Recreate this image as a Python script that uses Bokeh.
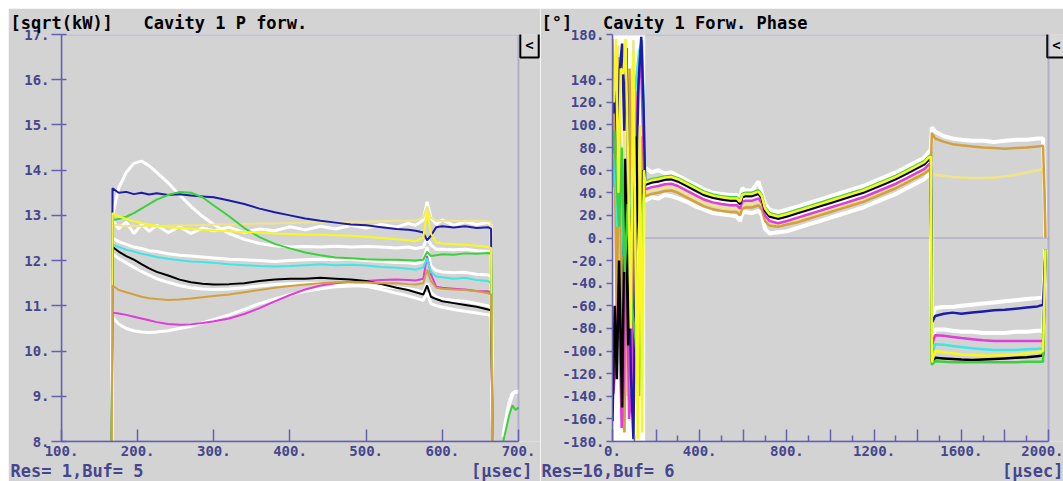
from bokeh.plotting import figure
from bokeh.layouts import row, column
from bokeh.models import FixedTicker, Label, Range1d, Title, BoxAnnotation, Spacer
from bokeh.embed import file_html
from bokeh.resources import INLINE

# ================= Left panel: Cavity 1 P forw. [sqrt(kW)] vs time [usec] =================
P_X = [166, 167, 175, 185, 195, 205, 215, 225, 240, 255, 270, 285, 300, 320, 340, 360, 380, 400,
       420, 440, 460, 480, 500, 520, 540, 555, 565, 575, 580, 585, 592, 600, 615, 630, 645, 660, 664, 666]
P_BLUE = [8.0, 13.6, 13.5, 13.52, 13.47, 13.5, 13.46, 13.49, 13.45, 13.47, 13.44, 13.42, 13.4, 13.33, 13.25,
          13.15, 13.07, 13.0, 12.93, 12.88, 12.84, 12.8, 12.78, 12.74, 12.7, 12.68, 12.66, 12.62, 12.45, 12.55,
          12.74, 12.76, 12.73, 12.76, 12.72, 12.74, 12.7, 8.0]
P_GREEN = [8.0, 12.9, 12.92, 12.97, 13.05, 13.15, 13.25, 13.35, 13.45, 13.52, 13.5, 13.4, 13.22, 12.98, 12.72,
           12.52, 12.37, 12.27, 12.18, 12.12, 12.07, 12.05, 12.03, 12.02, 12.02, 12.01, 12.0, 12.02, 12.2, 12.1,
           12.12, 12.14, 12.13, 12.16, 12.15, 12.17, 12.15, 8.0]
P_CYAN = [8.0, 12.35, 12.3, 12.24, 12.2, 12.15, 12.12, 12.08, 12.04, 12.01, 11.98, 11.97, 11.95, 11.92, 11.9,
          11.88, 11.87, 11.88, 11.9, 11.92, 11.9, 11.91, 11.89, 11.86, 11.84, 11.82, 11.8, 11.85, 12.05, 11.75,
          11.65, 11.63, 11.6, 11.62, 11.57, 11.55, 11.5, 8.0]
P_BLACK = [8.0, 12.3, 12.2, 12.1, 12.02, 11.92, 11.83, 11.75, 11.67, 11.58, 11.52, 11.49, 11.47, 11.48, 11.5,
           11.55, 11.58, 11.6, 11.6, 11.62, 11.6, 11.58, 11.55, 11.48, 11.4, 11.35, 11.3, 11.25, 11.45, 11.2,
           11.15, 11.1, 11.06, 11.02, 10.98, 10.92, 10.9, 8.0]
P_MAGENTA = [8.0, 10.85, 10.83, 10.8, 10.76, 10.72, 10.68, 10.64, 10.6, 10.58, 10.59, 10.62, 10.66, 10.72, 10.82,
             10.95, 11.1, 11.24, 11.36, 11.45, 11.5, 11.53, 11.55, 11.57, 11.58, 11.57, 11.56, 11.6, 12.1, 11.7,
             11.42, 11.4, 11.38, 11.36, 11.33, 11.32, 11.3, 8.0]
P_ORANGE = [8.0, 11.45, 11.35, 11.3, 11.25, 11.2, 11.17, 11.15, 11.13, 11.14, 11.16, 11.19, 11.22, 11.25, 11.3,
            11.35, 11.4, 11.44, 11.47, 11.5, 11.52, 11.52, 11.52, 11.5, 11.5, 11.48, 11.47, 11.5, 11.8, 11.55,
            11.4, 11.38, 11.36, 11.35, 11.32, 11.28, 11.25, 8.0]
P_YELLOW = [8.0, 13.05, 12.98, 12.92, 12.87, 12.83, 12.8, 12.77, 12.74, 12.72, 12.7, 12.68, 12.67, 12.65, 12.63,
            12.62, 12.6, 12.59, 12.58, 12.57, 12.56, 12.55, 12.53, 12.5, 12.47, 12.45, 12.43, 12.5, 13.1, 12.6,
            12.4, 12.38, 12.37, 12.35, 12.33, 12.3, 12.28, 8.0]
P_PALEYELLOW = [8.0, 12.8, 12.78, 12.76, 12.77, 12.76, 12.77, 12.76, 12.77, 12.78, 12.78, 12.79, 12.8, 12.8, 12.81,
                12.82, 12.82, 12.83, 12.84, 12.85, 12.85, 12.86, 12.86, 12.87, 12.88, 12.88, 12.89, 12.95, 13.2,
                12.95, 12.88, 12.88, 12.88, 12.87, 12.88, 12.87, 12.86, 8.0]
P_WHITE_PEAK = [8.0, 13.0, 13.6, 13.95, 14.15, 14.2, 14.1, 13.95, 13.72, 13.45, 13.2, 12.98, 12.8, 12.6, 12.47,
                12.38, 12.33, 12.3, 12.31, 12.3, 12.32, 12.3, 12.31, 12.3, 12.28, 12.3, 12.27, 12.3, 12.5, 12.35,
                12.25, 12.25, 12.24, 12.25, 12.22, 12.2, 12.2, 8.0]
P_WHITE_LOW = [8.0, 10.75, 10.6, 10.5, 10.45, 10.42, 10.41, 10.42, 10.45, 10.5, 10.55, 10.62, 10.7, 10.8, 10.92,
               11.05, 11.15, 11.25, 11.32, 11.38, 11.42, 11.44, 11.45, 11.43, 11.4, 11.38, 11.35, 11.3, 11.5, 11.3,
               11.2, 11.15, 11.12, 11.1, 11.05, 11.0, 10.95, 8.0]
P_WHITE_MID = [8.0, 12.9, 12.7, 12.85, 12.6, 12.8, 12.65, 12.78, 12.62, 12.75, 12.6, 12.72, 12.66, 12.74, 12.62,
               12.7, 12.66, 12.75, 12.68, 12.76, 12.7, 12.78, 12.72, 12.8, 12.74, 12.82, 12.78, 12.9, 13.3, 12.95,
               12.8, 12.9, 12.78, 12.86, 12.8, 12.84, 12.8, 8.0]
P_WHITE_CYAN = [8.0, 12.5, 12.42, 12.36, 12.3, 12.27, 12.22, 12.2, 12.15, 12.12, 12.1, 12.08, 12.06, 12.03, 12.02,
                12.0, 11.98, 12.0, 12.02, 12.03, 12.02, 12.03, 12.0, 11.98, 11.96, 11.95, 11.93, 11.98, 12.3, 11.88,
                11.78, 11.75, 11.73, 11.74, 11.7, 11.68, 11.65, 8.0]
P_WHITE_BLACK = [8.0, 12.15, 12.05, 11.95, 11.85, 11.76, 11.68, 11.6, 11.52, 11.45, 11.4, 11.37, 11.36, 11.37,
                 11.4, 11.44, 11.47, 11.49, 11.5, 11.5, 11.48, 11.46, 11.43, 11.36, 11.28, 11.22, 11.17, 11.12, 11.3,
                 11.05, 11.0, 10.97, 10.92, 10.88, 10.84, 10.8, 10.78, 8.0]
P_TAIL_X = [680, 684, 688, 692, 696, 700]
P_TAIL_GREEN = [8.0, 8.3, 8.6, 8.8, 8.7, 8.75]
P_TAIL_WHITE = [8.1, 8.5, 8.85, 9.05, 9.1, 9.1]
P_XTICKS = [100, 200, 300, 400, 500, 600, 700]
P_XTICK_LABELS = ["100.", "200.", "300.", "400.", "500.", "600.", "700."]
P_YTICKS = [8, 9, 10, 11, 12, 13, 14, 15, 16, 17]
P_YTICK_LABELS = ["8.", "9.", "10.", "11.", "12.", "13.", "14.", "15.", "16.", "17."]

# ================= Right panel: Cavity 1 Forw. Phase [deg] vs time [usec] =================
PH_X = [150, 180, 210, 240, 270, 300, 340, 380, 420, 460, 500, 540, 570, 585, 595, 610, 640, 670, 685, 700,
        720, 760, 800, 850, 900, 950, 1000, 1050, 1100, 1150, 1200, 1250, 1300, 1350, 1400, 1430, 1450, 1460,
        1465, 1480, 1520, 1560, 1600, 1650, 1700, 1750, 1800, 1850, 1900, 1950, 1975, 1982, 1986]
PH_GREEN = [50, 52, 53, 54.5, 55, 53, 49, 45, 41, 38.5, 37, 36, 36, 33, 39, 40, 40, 42, 38, 27, 22, 20, 22, 25,
            28, 31, 34, 37, 40, 43, 47, 51, 55, 60, 65, 68, 72, 73,
            -112, -109, -109.5, -110, -110, -110, -110, -110, -110, -110, -109.5, -109.5, -109.5, -50, -10]
PH_YELLOW = [49, 51, 52, 53.5, 54, 52, 48, 44, 40, 37.5, 36, 35, 35, 32, 38, 39, 39, 41, 37, 26, 21, 19, 21, 24,
             27, 30, 33, 36, 39, 42, 46, 50, 54, 59, 64, 67, 71, 72,
             -110, -100, -101, -102, -103, -103.5, -104, -104, -103.5, -103, -102, -101, -100, -50, -10]
PH_CYAN = [48.5, 50.5, 51.5, 53, 53.5, 51.5, 47.5, 43.5, 39.5, 37, 35.5, 34.5, 34.5, 31.5, 37.5, 38.5, 38.5, 40.5,
           36.5, 25.5, 20.5, 18.5, 20.5, 23.5, 26.5, 29.5, 32.5, 35.5, 38.5, 41.5, 45.5, 49.5, 53.5, 58.5, 63.5,
           66.5, 70.5, 71.5,
           -105, -94, -94.5, -95.5, -96.5, -97.5, -98.5, -99, -99, -99, -98.5, -98, -97.5, -40, -10]
PH_BLACK = [47.5, 49.5, 50.5, 52, 52.5, 50.5, 46.5, 42.5, 38.5, 36, 34.5, 33.5, 33.5, 30.5, 36.5, 37.5, 37.5, 39.5,
            35.5, 24.5, 19.5, 17.5, 19.5, 22.5, 25.5, 28.5, 31.5, 34.5, 37.5, 40.5, 44.5, 48.5, 52.5, 57.5, 62.5,
            65.5, 69.5, 70.5,
            -110, -106, -106.5, -107, -107.5, -108, -107.5, -107, -106.5, -106, -105.5, -104.5, -104, -50, -10]
PH_BLUE = [47, 49, 50, 51.5, 52, 50, 46, 42, 38, 35.5, 34, 33, 33, 30, 36, 37, 37, 39, 35, 24, 19, 17, 19, 22,
           25, 28, 31, 34, 37, 40, 44, 48, 52, 57, 62, 65, 69, 70,
           -75, -69, -67, -66, -67, -66, -65, -64, -63.5, -62.5, -61.5, -60.5, -59, -30, -10]
PH_MAGENTA = [43, 45, 46, 47.5, 48, 46, 42, 38, 34, 31.5, 30, 29, 29, 26, 32, 33, 33, 35, 31, 20, 15, 13, 15, 18,
              21, 24, 27, 30, 33, 36, 40, 44, 48, 53, 58, 61, 65, 66,
              -95, -86, -86.5, -87.5, -88.5, -89.5, -90.5, -91, -91, -91, -91, -91, -91, -40, -10]
PH_PALEYELLOW = [40, 42, 43, 44.5, 45, 43, 39, 35, 31, 28.5, 27, 26, 26, 23, 29, 30, 30, 32, 28, 17, 13, 12, 14,
                 16, 19, 22, 25, 28, 31, 34, 38, 42, 46, 51, 56, 59, 62, 63,
                 58, 56, 55, 54, 53.5, 53, 53, 53.5, 54.5, 56, 58, 60, 61, 30, 0]
PH_ORANGE = [37, 39, 40, 41.5, 42, 40, 36, 32, 28, 25.5, 24, 23, 23, 20, 26, 27, 27, 29, 25, 15, 11, 10, 12, 14,
             17, 20, 23, 26, 29, 32, 36, 40, 44, 49, 54, 57, 60, 61,
             93, 88, 85, 83, 82, 81, 80, 79.5, 79, 79.5, 80, 81, 81.5, 40, 0]
PH_WHITE_HI = [62, 58, 60, 57, 58, 55, 51, 47, 43, 40, 39, 38, 38, 36, 44, 42, 42, 50, 40, 30, 25, 23, 25, 28,
               31, 34, 37, 40, 43, 46, 50, 54, 58, 63, 68, 71, 76, 78,
               98, 94, 90, 88, 87, 86, 86, 85, 86, 87, 87, 88, 88, 40, 0]
PH_WHITE_LO = [33, 36, 35, 38, 37, 35, 32, 28, 25, 22, 21, 20, 19, 15, 22, 23, 22, 24, 20, 8, 4, 5, 6, 9,
               12, 15, 18, 21, 24, 27, 31, 35, 39, 44, 49, 52, 56, 57,
               -70, -62, -61, -61, -60, -59, -58, -57, -56, -55, -54, -53, -52, -30, -10]
PH_WHITE_MID = [45, 48, 47, 50, 49, 48, 44, 40, 36, 33, 32, 31, 31, 28, 34, 35, 35, 37, 33, 22, 17, 15, 17, 20,
                23, 26, 29, 32, 35, 38, 42, 46, 50, 55, 60, 63, 67, 68,
                -90, -81, -81, -82, -83, -83, -84, -84, -84, -83, -83, -82, -82, -40, -10]
# chaotic start of the pulse (first ~150 usec)
PH_BLUE_CX = [4, 14, 24, 34, 44, 54, 64, 74, 84, 96, 108, 120, 132, 142]
PH_BLUE_CY = [110, 130, 60, 150, 172, 95, 168, 20, -120, -178, 40, 140, 178, 120]
PH_YELLOW_CX = [6, 16, 27, 38, 50, 60, 72, 84, 96, 106, 116, 126, 136, 144]
PH_YELLOW_CY = [120, 176, 40, 150, 145, 176, 60, -80, 165, -30, -178, 100, -172, 60]
PH_ORANGE_CX = [0, 10, 20, 32, 42, 55, 68, 78, 92, 106, 120, 134, 144]
PH_ORANGE_CY = [176, 80, -90, 160, -150, -172, 20, 150, -30, 130, 10, 90, 50]
PH_MAGENTA_CX = [4, 18, 28, 42, 52, 62, 76, 88, 102, 116, 130, 142]
PH_MAGENTA_CY = [-138, -100, -40, -168, -125, 30, -160, -135, 60, 130, 160, 80]
PH_BLACK_CX = [0, 10, 20, 30, 44, 58, 72, 88, 106, 124, 140]
PH_BLACK_CY = [-162, -60, -125, -20, -150, 70, -95, 20, 90, -20, 60]
PH_GREEN_CX = [0, 8, 18, 30, 42, 56, 70, 88, 106, 122, 136]
PH_GREEN_CY = [75, 95, 55, 10, 80, -30, 30, -60, -90, -140, 20]
PH_CYAN_CX = [0, 10, 22, 34, 48, 62, 78, 94, 108, 122, 136]
PH_CYAN_CY = [45, 70, 10, 85, -15, 35, -60, 100, 140, 165, 175]
PH_PALEYELLOW_CX = [2, 14, 26, 40, 54, 66, 80, 96, 110, 126, 140]
PH_PALEYELLOW_CY = [150, 40, 170, -60, 110, -140, 60, 175, -100, 30, 80]
PH_BAND_X = [0, 150]
PH_BAND_LO = [-180, -180]
PH_BAND_HI = [180, 180]
PH_XTICKS = [0, 200, 400, 600, 800, 1000, 1200, 1400, 1600, 1800, 2000]
PH_XTICK_LABELS = ["0.", "", "400.", "", "800.", "", "1200.", "", "1600.", "", "2000."]
PH_XMINOR = [100, 300, 500, 700, 900, 1100, 1300, 1500, 1700, 1900]
PH_YTICKS = [-180, -160, -140, -120, -100, -80, -60, -40, -20, 0, 20, 40, 60, 80, 100, 120, 140, 180]
PH_YTICK_LABELS = ["-180.", "-160.", "-140.", "-120.", "-100.", "-80.", "-60.", "-40.", "-20.", "0.", "20.",
                   "40.", "60.", "80.", "100.", "120.", "140.", "180."]

# ================= styling =================
BG = "#d3d3d3"
AXC = "#6660b0"
LBLC = "#46468c"
MONO = "DejaVu Sans Mono"
C_BLUE = "#1c1ca8"
C_GREEN = "#3ad23a"
C_CYAN = "#3ee6e6"
C_BLACK = "#000000"
C_MAGENTA = "#e03cd8"
C_ORANGE = "#d2a03c"
C_YELLOW = "#f8f820"
C_PALE = "#f0e48a"
C_WHITE = "#ffffff"
NB = "\u00a0"


def make_fig(width, left, xr, yr, xbounds, ybox):
    p = figure(width=width, height=473, x_range=Range1d(*xr), y_range=Range1d(*yr),
               output_backend="svg", toolbar_location=None, title=None,
               min_border_left=left, min_border_right=0, min_border_top=25, min_border_bottom=40)
    p.background_fill_color = BG
    p.border_fill_color = BG
    p.outline_line_color = None
    p.grid.visible = False
    p.xaxis.bounds = xbounds
    for ax in (p.xaxis[0], p.yaxis[0]):
        ax.axis_line_color = AXC
        ax.axis_line_width = 1.5
        ax.major_tick_line_color = AXC
        ax.major_tick_line_width = 1.5
        ax.minor_tick_line_color = AXC
        ax.minor_tick_line_width = 1.5
        ax.major_label_text_font = MONO
        ax.major_label_text_font_size = "14px"
        ax.major_label_text_font_style = "bold"
        ax.major_label_text_color = LBLC
    # plot-area border (only up to the end of the axis range)
    p.add_layout(BoxAnnotation(left=xbounds[0], right=xbounds[1], bottom=ybox[0], top=ybox[1],
                               fill_alpha=0, line_color=AXC, line_width=2, level="overlay"))
    return p


def add_titles(p, top, bottom, off):
    p.add_layout(Title(text=bottom, align="left", vertical_align="bottom", offset=off, standoff=0,
                       text_font=MONO, text_font_size="17px", text_font_style="bold", text_color=LBLC), "below")
    p.add_layout(Title(text=top, align="left", offset=off, standoff=4, text_font=MONO,
                       text_font_size="17px", text_font_style="bold", text_color="black"), "above")


def add_button(p, x, y):
    p.add_layout(Label(x=x, y=y, x_units="screen", y_units="screen", text="<", text_align="center",
                       text_baseline="middle", text_font=MONO, text_font_size="14px", text_font_style="bold",
                       text_color="black", background_fill_color="#d8d8d8", border_line_color="black",
                       border_line_width=2, padding=5))


# ---------- left ----------
p1 = make_fig(532, 53, (100, 728.9), (8, 17), (100, 700), (8, 17))
p1.xaxis.ticker = FixedTicker(ticks=P_XTICKS, minor_ticks=[])
p1.xaxis.major_label_overrides = dict(zip(P_XTICKS, P_XTICK_LABELS))
p1.xaxis.major_tick_in = 12
p1.xaxis.major_tick_out = 0
p1.xaxis.minor_tick_in = 0
p1.xaxis.minor_tick_out = 0
p1.xaxis.major_label_standoff = 4
p1.yaxis.ticker = FixedTicker(ticks=P_YTICKS, minor_ticks=[])
p1.yaxis.major_label_overrides = dict(zip(P_YTICKS, P_YTICK_LABELS))
p1.yaxis.major_tick_in = 5
p1.yaxis.major_tick_out = 10
p1.yaxis.minor_tick_in = 0
p1.yaxis.minor_tick_out = 0
p1.yaxis.major_label_standoff = 2

for ys in (P_WHITE_PEAK, P_WHITE_LOW, P_WHITE_MID, P_WHITE_CYAN, P_WHITE_BLACK):
    p1.line(P_X, ys, line_color=C_WHITE, line_width=3)
p1.line(P_TAIL_X, P_TAIL_WHITE, line_color=C_WHITE, line_width=4)
for ys, c in ((P_PALEYELLOW, C_PALE), (P_MAGENTA, C_MAGENTA), (P_CYAN, C_CYAN), (P_BLACK, C_BLACK),
              (P_BLUE, C_BLUE), (P_GREEN, C_GREEN), (P_YELLOW, C_YELLOW), (P_ORANGE, C_ORANGE)):
    p1.line(P_X, ys, line_color=c, line_width=2)
p1.line(P_TAIL_X, P_TAIL_GREEN, line_color=C_GREEN, line_width=2)

add_titles(p1, "[sqrt(kW)]" + NB * 3 + "Cavity 1 P forw.", "Res= 1,Buf= 5" + NB * 32 + "[µsec]", -51)
add_button(p1, 468, 397)

# ---------- right ----------
p2 = make_fig(523, 72, (0, 2068.8), (-180, 180), (0, 2000), (-180, 180))
p2.xaxis.ticker = FixedTicker(ticks=PH_XTICKS, minor_ticks=PH_XMINOR)
p2.xaxis.major_label_overrides = dict(zip(PH_XTICKS, PH_XTICK_LABELS))
p2.xaxis.major_tick_in = 12
p2.xaxis.major_tick_out = 0
p2.xaxis.minor_tick_in = 6
p2.xaxis.minor_tick_out = 0
p2.xaxis.major_label_standoff = 4
p2.yaxis.ticker = FixedTicker(ticks=PH_YTICKS, minor_ticks=[])
p2.yaxis.major_label_overrides = dict(zip(PH_YTICKS, PH_YTICK_LABELS))
p2.yaxis.major_tick_in = 0
p2.yaxis.major_tick_out = 6
p2.yaxis.minor_tick_in = 0
p2.yaxis.minor_tick_out = 0
p2.yaxis.major_label_standoff = 2

# zero line across the plot area
p2.add_layout(BoxAnnotation(left=0, right=2000, bottom=0, top=0, fill_alpha=0, line_color=AXC,
                            line_width=1.5, level="underlay"))
p2.varea(x=PH_BAND_X, y1=PH_BAND_LO, y2=PH_BAND_HI, fill_color=C_WHITE)
for ys in (PH_WHITE_HI, PH_WHITE_LO, PH_WHITE_MID):
    p2.line(PH_X, ys, line_color=C_WHITE, line_width=4)
series = (
    (PH_PALEYELLOW_CX, PH_PALEYELLOW_CY, PH_PALEYELLOW, C_PALE),
    (PH_ORANGE_CX, PH_ORANGE_CY, PH_ORANGE, C_ORANGE),
    (PH_MAGENTA_CX, PH_MAGENTA_CY, PH_MAGENTA, C_MAGENTA),
    (PH_CYAN_CX, PH_CYAN_CY, PH_CYAN, C_CYAN),
    (PH_BLUE_CX, PH_BLUE_CY, PH_BLUE, C_BLUE),
    (PH_BLACK_CX, PH_BLACK_CY, PH_BLACK, C_BLACK),
    (PH_GREEN_CX, PH_GREEN_CY, PH_GREEN, C_GREEN),
    (PH_YELLOW_CX, PH_YELLOW_CY, PH_YELLOW, C_YELLOW),
)
for cx, cy, ys, c in series:
    p2.line(cx + PH_X, cy + ys, line_color=c, line_width=2.5)

add_titles(p2, "[°]" + NB * 3 + "Cavity 1 Forw. Phase", "Res=16,Buf= 6" + NB * 32 + "[µsec]", -71)
add_button(p2, 444, 397)

layout = column(Spacer(width=1063, height=8),
                row(Spacer(width=8, height=473), p1, p2))
open("out.html", "w").write(file_html(layout, INLINE))
